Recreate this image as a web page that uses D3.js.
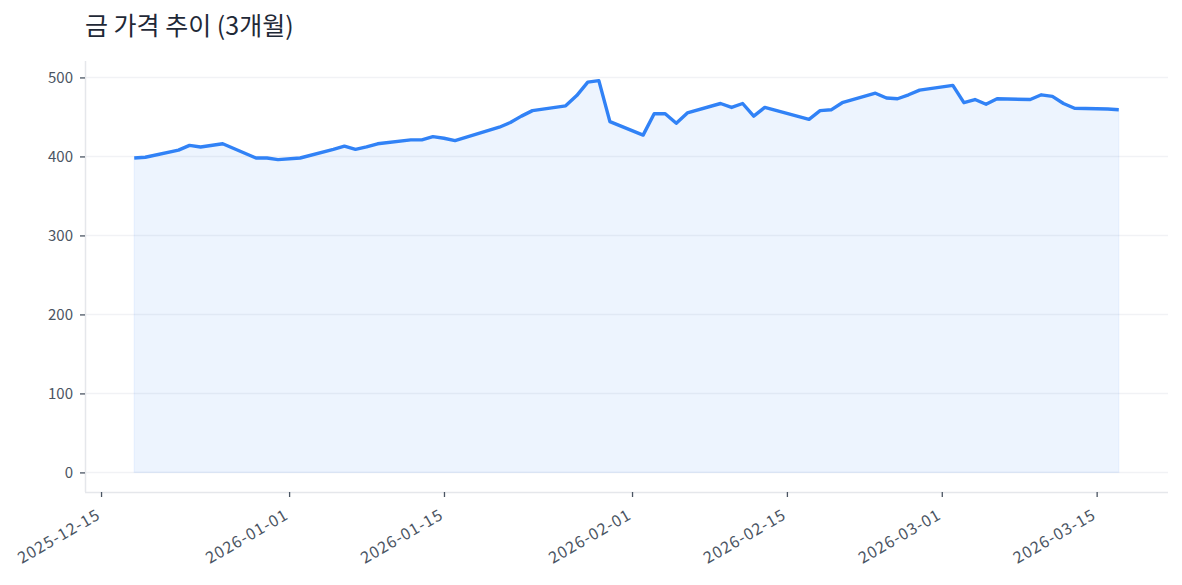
<!DOCTYPE html>
<html>
<head>
<meta charset="utf-8">
<script src="https://cdn.jsdelivr.net/npm/d3@7"></script>
<style>
  body { margin: 0; background: #fff; }
  svg { display: block; font-family: "Noto Sans CJK KR", "Noto Sans", sans-serif; }
</style>
</head>
<body>
<div id="chart"></div>
<script>
// trading days and closing prices
var dates = [
  '2025-12-18', '2025-12-19', '2025-12-22', '2025-12-23', '2025-12-24', '2025-12-26',
  '2025-12-29', '2025-12-30', '2025-12-31', '2026-01-02', '2026-01-05', '2026-01-06',
  '2026-01-07', '2026-01-08', '2026-01-09', '2026-01-12', '2026-01-13', '2026-01-14',
  '2026-01-15', '2026-01-16', '2026-01-20', '2026-01-21', '2026-01-22', '2026-01-23',
  '2026-01-26', '2026-01-27', '2026-01-28', '2026-01-29', '2026-01-30', '2026-02-02',
  '2026-02-03', '2026-02-04', '2026-02-05', '2026-02-06', '2026-02-09', '2026-02-10',
  '2026-02-11', '2026-02-12', '2026-02-13', '2026-02-17', '2026-02-18', '2026-02-19',
  '2026-02-20', '2026-02-23', '2026-02-24', '2026-02-25', '2026-02-26', '2026-02-27',
  '2026-03-02', '2026-03-03', '2026-03-04', '2026-03-05', '2026-03-06', '2026-03-09',
  '2026-03-10', '2026-03-11', '2026-03-12', '2026-03-13', '2026-03-16', '2026-03-17'
]
var prices = [
  398, 399, 408, 414, 412, 416,
  398, 398, 396, 398, 409, 413,
  409, 412, 416, 421, 421, 425,
  423, 420, 437, 443, 451, 458,
  464, 477, 494, 496, 444, 427,
  454, 454, 442, 455, 467, 462,
  467, 451, 462, 447, 458, 459,
  468, 480, 474, 473, 478, 484,
  490, 468, 472, 466, 473, 472,
  478, 476, 467, 461, 460, 459
]
var yTicks = [0, 100, 200, 300, 400, 500]
var xTickLabels = ['2025-12-15', '2026-01-01', '2026-01-15', '2026-02-01', '2026-02-15', '2026-03-01', '2026-03-15']
var title = '금 가격 추이 (3개월)'

var W = 1182, H = 585
var margin = { top: 61, right: 14, bottom: 93, left: 85 }
var plotW = W - margin.left - margin.right
var plotH = H - margin.top - margin.bottom

var parse = d3.utcParse('%Y-%m-%d')
var data = dates.map((d, i) => ({ date: parse(d), value: prices[i] }))

// 5% padding like the original's autoscale
var xExt = d3.extent(data, d => d.date)
var xPad = (xExt[1] - xExt[0]) * 0.05
var yMax = d3.max(data, d => d.value)
var yPad = yMax * 0.05

var x = d3.scaleUtc()
  .domain([new Date(+xExt[0] - xPad), new Date(+xExt[1] + xPad)])
  .range([0, plotW])
var y = d3.scaleLinear()
  .domain([-yPad, yMax + yPad])
  .range([plotH, 0])

var svg = d3.select('#chart').append('svg')
  .attr('width', W)
  .attr('height', H)

svg.append('text')
  .attr('x', margin.left)
  .attr('y', 35)
  .attr('fill', '#1f2937')
  .attr('font-size', 25)
  .attr('font-weight', 400)
  .text(title)

var g = svg.append('g')
  .attr('transform', 'translate(' + margin.left + ',' + margin.top + ')')

// horizontal grid
g.append('g')
  .selectAll('line')
  .data(yTicks)
  .join('line')
  .attr('x1', 0)
  .attr('x2', plotW)
  .attr('y1', d => y(d))
  .attr('y2', d => y(d))
  .attr('stroke', '#f1f2f5')
  .attr('stroke-width', 1.5)

// area under the line
var area = d3.area()
  .x(d => x(d.date))
  .y0(y(0))
  .y1(d => y(d.value))
g.append('path')
  .datum(data)
  .attr('d', area)
  .attr('fill', '#3b82f6')
  .attr('fill-opacity', 0.09)
  .attr('stroke', '#3b82f6')
  .attr('stroke-opacity', 0.08)
  .attr('stroke-width', 1.2)

var line = d3.line()
  .x(d => x(d.date))
  .y(d => y(d.value))
g.append('path')
  .datum(data)
  .attr('d', line)
  .attr('fill', 'none')
  .attr('stroke', '#3182f6')
  .attr('stroke-width', 3.4)
  .attr('stroke-linejoin', 'round')

// axes
var yAxis = g.append('g')
  .call(d3.axisLeft(y).tickValues(yTicks).tickSize(5).tickPadding(7))
var xAxis = g.append('g')
  .attr('transform', 'translate(0,' + plotH + ')')
  .call(d3.axisBottom(x).tickValues(xTickLabels.map(parse)).tickSize(5).tickPadding(6)
    .tickFormat(d3.utcFormat('%Y-%m-%d')))

;[yAxis, xAxis].forEach(a => {
  a.select('.domain').attr('stroke', '#e5e7eb').attr('stroke-width', 1.5)
  a.selectAll('.tick line').attr('stroke', '#4b5563').attr('stroke-width', 1.3)
  a.selectAll('.tick text')
    .attr('fill', '#4b5563')
    .attr('font-size', 15)
    .attr('font-family', '"Noto Sans CJK KR", "Noto Sans", sans-serif')
})
// only the spine part
yAxis.select('.domain').attr('d', 'M0.5,' + plotH + 'V0')
xAxis.select('.domain').attr('d', 'M0,0.5H' + plotW)

xAxis.selectAll('.tick text')
  .attr('text-anchor', 'end')
  .attr('dy', 0)
  .attr('y', 0)
  .attr('font-size', 16)
  .attr('letter-spacing', 1)
  .attr('transform', 'translate(0,26) rotate(-30)')
</script>
</body>
</html>
